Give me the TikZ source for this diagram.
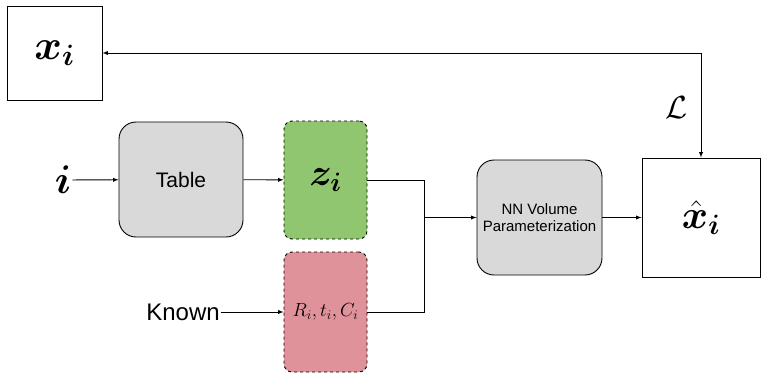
\RequirePackage{fix-cm}
\documentclass[tikz,border=0pt]{standalone}
\usepackage{amsmath}
\usepackage{bm}
\usepackage{fontspec}
\setmainfont{Liberation Sans}
\usetikzlibrary{positioning}
\definecolor{boxgray}{HTML}{D9D9D9}
\definecolor{latgreen}{HTML}{91C670}
\definecolor{knownred}{HTML}{DF929A}
\newcommand{\fsz}[1]{\fontsize{#1}{1.15\dimexpr#1pt\relax}\selectfont}
\begin{document}
\begin{tikzpicture}[x=1pt, y=-1pt,
    plainbox/.style={draw, line width=0.9pt, inner sep=0pt},
    procbox/.style={draw, line width=0.9pt, rounded corners=17pt, fill=boxgray, align=center, inner sep=0pt},
    databox/.style={draw, line width=0.9pt, dashed, rounded corners=8pt, inner sep=0pt, minimum width=83pt},
    conn/.style={line width=0.9pt}
  ]
    \useasboundingbox (0,0) rectangle (761,373);
    \node[plainbox, minimum width=95pt, minimum height=94pt, font=\fsz{42}] (xi) at (54.5,53) {$\bm{x_i}$};
    \node[plainbox, minimum width=118pt, minimum height=119pt, font=\fsz{40}] (xhat) at (701,217.5) {$\bm{\hat{x}_i}$};
    \node[procbox, minimum width=124pt, minimum height=115pt, font=\fsz{21}] (table) at (181,179.5) {Table};
    \node[databox, fill=latgreen, minimum height=118pt, font=\fsz{38}] (zi) at (325.5,180) {$\bm{z_i}$};
    \node[databox, fill=knownred, minimum height=120pt, font=\fsz{19}] (rtc) at (325.5,312) {$R_i,t_i,C_i$};
    \node[procbox, minimum width=125pt, minimum height=115pt, font=\fontsize{15}{17}\selectfont] (nn) at (539.5,217.5) {NN Volume\\Parameterization};
    \node[inner sep=1pt, font=\fsz{40}] (idx) at (63,180) {$\bm{i}$};
    \node[inner sep=1pt, font=\fsz{24}] (known) at (183,312) {Known};
    \node[font=\fsz{32}] (loss) at (677,108) {$\mathcal{L}$};
    \coordinate (jn) at (424,217.5);

    \draw[conn, -latex] (idx) -- (table);
    \draw[conn, -latex] (table) -- (zi);
    \draw[conn, -latex] (known) -- (rtc);
    \draw[conn] (zi.east) -| (jn);
    \draw[conn] (rtc.east) -| (jn);
    \draw[conn, -latex] (jn) -- (nn);
    \draw[conn, -latex] (nn) -- (xhat);
    \draw[conn, latex-latex] (xi.east) -| (xhat.north);
  \end{tikzpicture}
\end{document}
